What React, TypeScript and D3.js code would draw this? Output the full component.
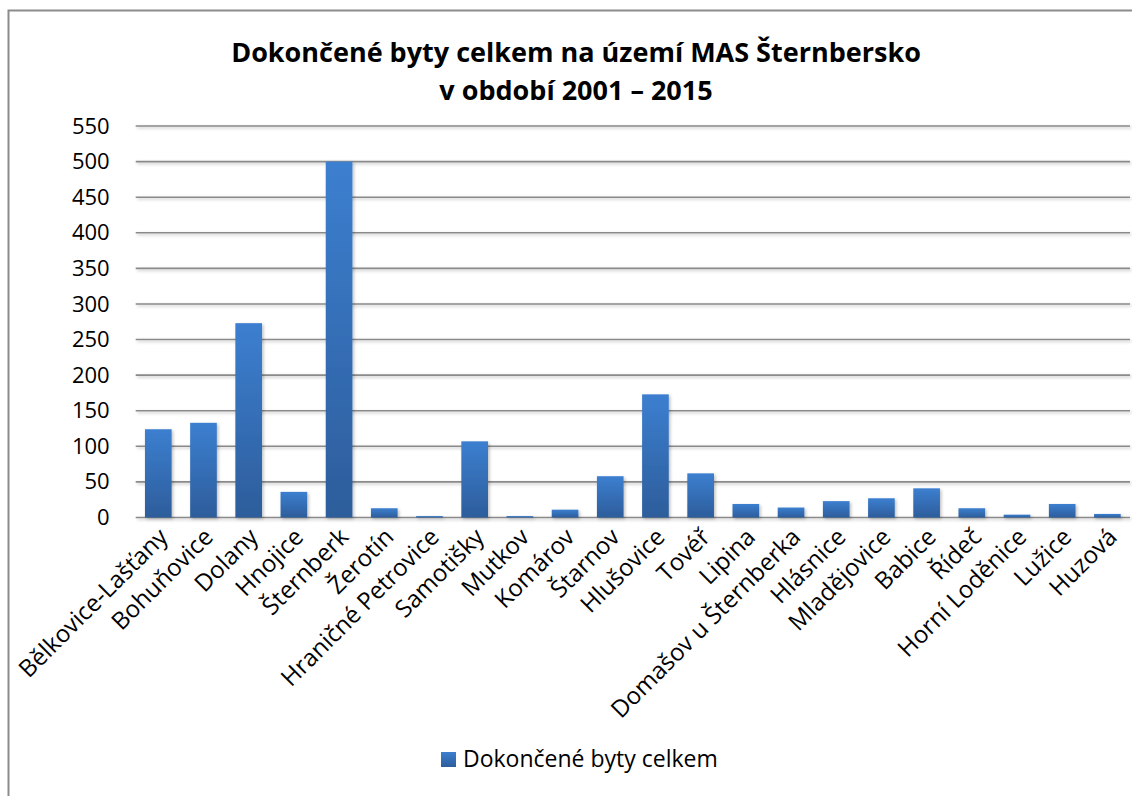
import React, { useEffect, useRef } from 'react';
import * as d3 from 'd3';

// obce MAS Šternbersko
const obce = [
  'Bělkovice-Lašťany', 'Bohuňovice', 'Dolany', 'Hnojice', 'Šternberk', 'Žerotín',
  'Hraničné Petrovice', 'Samotišky', 'Mutkov', 'Komárov', 'Štarnov', 'Hlušovice',
  'Tovéř', 'Lipina', 'Domašov u Šternberka', 'Hlásnice', 'Mladějovice', 'Babice',
  'Řídeč', 'Horní Loděnice', 'Lužice', 'Huzová'
];
const byty = [124, 133, 273, 36, 500, 13, 2, 107, 2, 11, 58, 173, 62, 19, 14, 23, 27, 41, 13, 4, 19, 5];
const yTicks = [0, 50, 100, 150, 200, 250, 300, 350, 400, 450, 500, 550];
const seriesName = 'Dokončené byty celkem';
const titleLines = ['Dokončené byty celkem na území MAS Šternbersko', 'v období 2001 – 2015'];

const W = 1132, H = 796;
const FONT = '"Open Sans", Lato, sans-serif';

const App = () => {
  const ref = useRef<SVGSVGElement>(null);

  useEffect(() => {
    if (!ref.current) return;
    const svg = d3.select(ref.current);
    svg.selectAll('*').remove();

    const margin = { top: 126, right: 2, bottom: 278.5, left: 135.7 };

    const defs = svg.append('defs');
    const grad = defs.append('linearGradient')
      .attr('id', 'barGrad').attr('x1', 0).attr('y1', 0).attr('x2', 0).attr('y2', 1);
    grad.append('stop').attr('offset', '0%').attr('stop-color', '#3c7fd0');
    grad.append('stop').attr('offset', '100%').attr('stop-color', '#2d5d9b');
    const shadow = defs.append('filter').attr('id', 'shadow')
      .attr('x', '-20%').attr('y', '-20%').attr('width', '140%').attr('height', '140%');
    shadow.append('feDropShadow')
      .attr('dx', 1.5).attr('dy', 1.5).attr('stdDeviation', 1.5)
      .attr('flood-color', '#000').attr('flood-opacity', 0.25);

    // okraj grafu (oříznutý vpravo a dole)
    svg.append('rect')
      .attr('x', 8.5).attr('y', 10.5)
      .attr('width', W + 40).attr('height', H + 40)
      .attr('fill', 'white')
      .attr('stroke', '#8c8c8c').attr('stroke-width', 2);

    const x = d3.scaleBand()
      .domain(obce)
      .range([margin.left, W - margin.right])
      .paddingInner(0.41)
      .paddingOuter(0.205);

    const y = d3.scaleLinear()
      .domain([0, 550])
      .range([H - margin.bottom, margin.top]);

    // mřížka
    const grid = svg.append('g').attr('filter', 'url(#shadow)');
    grid.selectAll('line')
      .data(yTicks)
      .join('line')
      .attr('x1', margin.left).attr('x2', W - margin.right)
      .attr('y1', d => y(d)).attr('y2', d => y(d))
      .attr('stroke', '#8a8a8a').attr('stroke-width', 1.6);

    const yAxis = d3.axisLeft(y).tickValues(yTicks).tickSize(0).tickPadding(26);
    svg.append('g')
      .attr('transform', `translate(${margin.left},0)`)
      .call(yAxis)
      .call(g => g.select('.domain').remove())
      .call(g => g.selectAll('text')
        .attr('font-family', FONT).attr('font-size', 22).attr('fill', '#000'));

    // sloupce
    svg.append('g').attr('filter', 'url(#shadow)')
      .selectAll('rect')
      .data(byty)
      .join('rect')
      .attr('x', (d, i) => x(obce[i]))
      .attr('width', x.bandwidth())
      .attr('y', d => y(d))
      .attr('height', d => y(0) - y(d))
      .attr('fill', 'url(#barGrad)');

    // popisky kategorií
    svg.append('g')
      .selectAll('text')
      .data(obce)
      .join('text')
      .attr('transform', d => `translate(${x(d) + x.bandwidth() / 2 + 5},${y(0) + 15}) rotate(-45)`)
      .attr('text-anchor', 'end')
      .attr('dy', '0.35em')
      .attr('font-family', FONT).attr('font-size', 24).attr('fill', '#000')
      .text(d => d);

    // titulek
    const title = svg.append('text')
      .attr('text-anchor', 'middle')
      .attr('font-family', FONT).attr('font-size', 27).attr('font-weight', 'bold');
    title.selectAll('tspan')
      .data(titleLines)
      .join('tspan')
      .attr('x', 576)
      .attr('y', (d, i) => 62 + i * 38)
      .text(d => d);

    // legenda
    svg.append('rect')
      .attr('x', 441).attr('y', 752).attr('width', 15).attr('height', 15)
      .attr('fill', 'url(#barGrad)');
    svg.append('text')
      .attr('x', 463).attr('y', 767)
      .attr('font-family', FONT).attr('font-size', 23)
      .text(seriesName);
  }, []);

  return (
    <svg ref={ref} width={W} height={H}
      style={{ position: 'absolute', left: 0, top: 0, background: 'white' }} />
  );
};

export default App;
